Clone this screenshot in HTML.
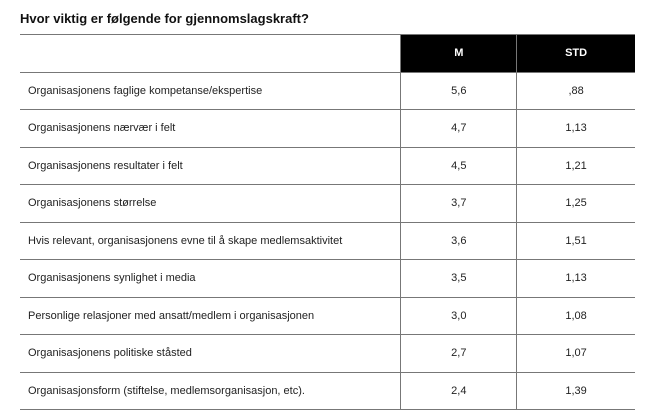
<!DOCTYPE html>
<html><head><meta charset="utf-8"><style>
body{margin:0;width:656px;height:420px;background:#fff;font-family:"Liberation Sans",sans-serif;color:#222;position:relative;overflow:hidden}
h1{position:absolute;left:20px;top:11px;margin:0;font-size:13px;font-weight:bold;color:#111}
table{position:absolute;left:20px;top:34px;border-collapse:collapse;width:615px}
td,th{height:36.5px;font-size:11px;padding:0;border-top:1.5px solid #777;border-bottom:1.5px solid #777}
td.l{padding-left:8px;width:373px}
td.v,th{text-align:center;border-left:1.5px solid #777}
th{background:#000;color:#fff;font-weight:bold;font-size:11px}
th.e{background:#fff;border-left:none}
</style></head><body>
<h1>Hvor viktig er følgende for gjennomslagskraft?</h1>
<table>
<thead><tr><th class="e"></th><th style="width:115px">M</th><th style="width:118px">STD</th></tr></thead>
<tbody id="tb"></tbody></table>
<script>
const labels=["Organisasjonens faglige kompetanse/ekspertise","Organisasjonens nærvær i felt","Organisasjonens resultater i felt","Organisasjonens størrelse","Hvis relevant, organisasjonens evne til å skape medlemsaktivitet","Organisasjonens synlighet i media","Personlige relasjoner med ansatt/medlem i organisasjonen","Organisasjonens politiske ståsted","Organisasjonsform (stiftelse, medlemsorganisasjon, etc)."];
const meanVals=["5,6","4,7","4,5","3,7","3,6","3,5","3,0","2,7","2,4"];
const stdVals=[",88","1,13","1,21","1,25","1,51","1,13","1,08","1,07","1,39"];
const tb=document.getElementById('tb');
labels.forEach((l,i)=>{
 const tr=document.createElement('tr');
 
 
 const a=document.createElement('td');a.className='l';a.textContent=l;
 
 
 const b=document.createElement('td');b.className='v';b.textContent=meanVals[i];
 
 
 const c=document.createElement('td');c.className='v';c.textContent=stdVals[i];
 
 
 tr.append(a,b,c);tb.appendChild(tr);
});
</script>
</body></html>
